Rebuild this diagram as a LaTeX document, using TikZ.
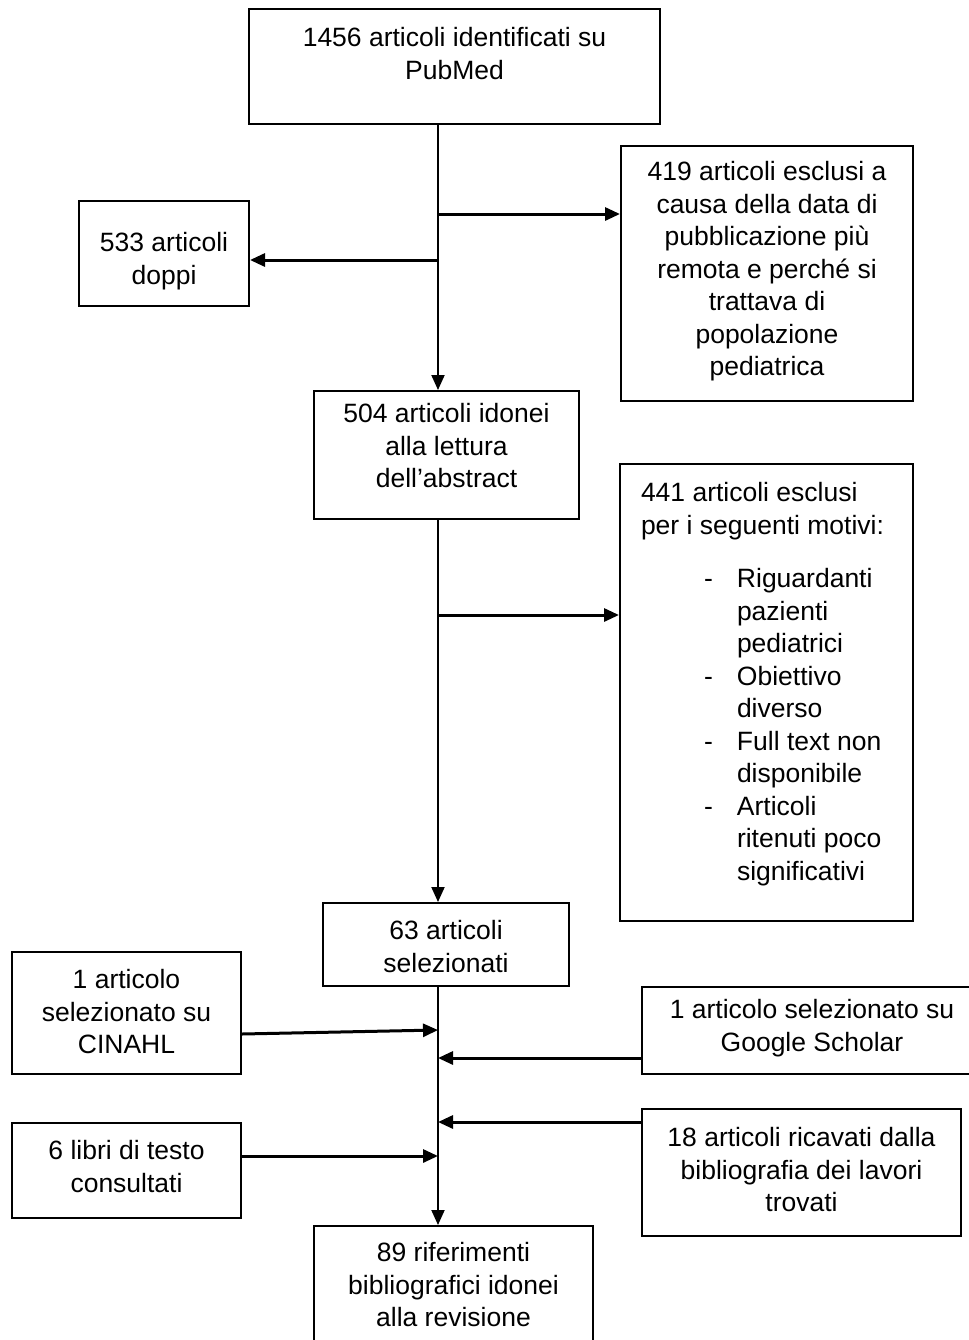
\documentclass[tikz,border=0pt]{standalone}
\usepackage{fontspec}
\setmainfont{Liberation Sans}
\usetikzlibrary{arrows.meta}

% one drawing unit of the flow chart
\newdimen\px \px=0.5pt

% text block of a box: width, height, top padding, centred lines
\newcommand\cellbox[4]{%
  \begin{minipage}[c][#2\px][t]{#1\px}\centering
  \vspace*{#3\px}\strut #4\end{minipage}}
% list items of the exclusion box
\newcommand\listdash{\makebox[96\px][l]{\hspace{63\px}-}}
\newcommand\listcont{\hspace*{96\px}}

\tikzset{
  box/.style={draw, line width=1pt, inner sep=0pt, anchor=north west,
    font=\fontsize{13.25pt}{16.25pt}\selectfont},
  spine/.style={line width=1pt},
  flow/.style={line width=1pt, -{Triangle[length=7.5pt,width=6.5pt]}},
  side/.style={line width=1.5pt, -{Triangle[length=7.5pt,width=6.5pt]}}
}

\begin{document}
\begin{tikzpicture}[x=0.5pt, y=-0.5pt]
\fill[white] (0,0) rectangle (969,1340);
\useasboundingbox (0,0) rectangle (969,1340);

% boxes
\node[box] (pubmed) at (248,8) {\cellbox{411}{115}{15}{1456 articoli identificati su\\PubMed}};
\node[box] (excl1) at (620,145) {\cellbox{292}{255}{12}{419 articoli esclusi a\\causa della data di\\pubblicazione più\\remota e perché si\\trattava di\\popolazione\\pediatrica}};
\node[box] (dup) at (78,200) {\cellbox{170}{105}{28}{533 articoli\\doppi}};
\node[box] (abstract) at (313,390) {\cellbox{265}{128}{9}{504 articoli idonei\\alla lettura\\dell’abstract}};
\node[box] (excl2) at (619,463) {%
  \begin{minipage}[c][457\px][t]{293\px}\raggedright\leftskip=21\px
  \vspace*{15\px}\strut 441 articoli esclusi\\
  per i seguenti motivi:\\[21\px]
  \listdash Riguardanti\\
  \listcont pazienti\\
  \listcont pediatrici\\
  \listdash Obiettivo\\
  \listcont diverso\\
  \listdash Full text non\\
  \listcont disponibile\\
  \listdash Articoli\\
  \listcont ritenuti poco\\
  \listcont significativi
  \end{minipage}};
\node[box] (sel) at (322,902) {\cellbox{246}{83}{14}{63 articoli\\selezionati}};
\node[box] (cinahl) at (11,951) {\cellbox{229}{122}{14}{1 articolo\\selezionato su\\CINAHL}};
\node[box] (scholar) at (641,986) {\cellbox{340}{87}{9}{1 articolo selezionato su\\Google Scholar}};
\node[box] (books) at (11,1122) {\cellbox{229}{95}{14}{6 libri di testo\\consultati}};
\node[box] (biblio) at (641,1108) {\cellbox{319}{127}{15}{18 articoli ricavati dalla\\bibliografia dei lavori\\trovati}};
\node[box] (final) at (313,1225) {\cellbox{279}{125}{13}{89 riferimenti\\bibliografici idonei\\alla revisione}};

% main vertical line and its junctions
\coordinate (axis) at (438,0);
\coordinate (b1) at (438,214);
\coordinate (b2) at (438,260);
\coordinate (b3) at (438,615);
\coordinate (j1) at (438,1030);
\coordinate (j2) at (438,1058);
\coordinate (j3) at (438,1122);
\coordinate (j4) at (438,1156);

\draw[flow] (pubmed.south -| axis) -- (abstract.north -| axis);
\draw[flow] (abstract.south -| axis) -- (sel.north -| axis);
\draw[flow] (sel.south -| axis) -- (final.north -| axis);

% branches out of the main line
\draw[side] (b1) -- (b1 -| excl1.west);
\draw[side] (b2) -- (b2 -| dup.east);
\draw[side] (b3) -- (b3 -| excl2.west);

% further sources joining the main line
\draw[side] (cinahl.east |- 0,1034) -- (j1);
\draw[side] (scholar.west |- j2) -- (j2);
\draw[side] (biblio.west |- j3) -- (j3);
\draw[side] (books.east |- j4) -- (j4);
\end{tikzpicture}
\end{document}
